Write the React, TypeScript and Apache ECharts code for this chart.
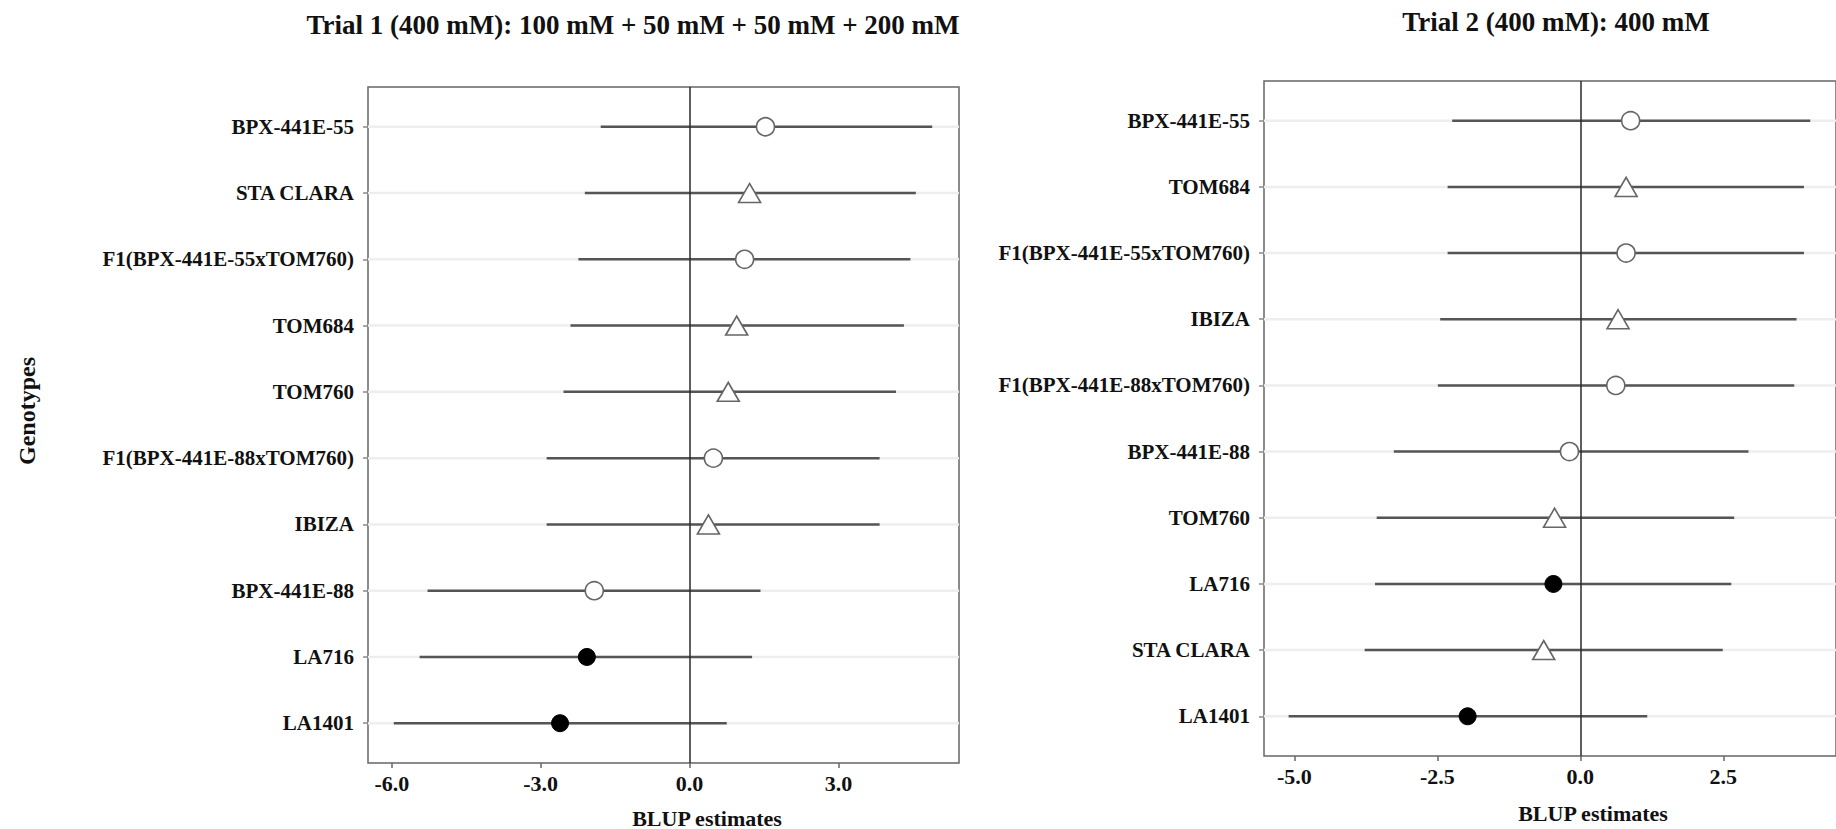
import React, { useEffect, useRef } from "react";
import * as echarts from "echarts";

// Trial 1 (top to bottom)
const genotypes1 = [
  "BPX-441E-55",
  "STA CLARA",
  "F1(BPX-441E-55xTOM760)",
  "TOM684",
  "TOM760",
  "F1(BPX-441E-88xTOM760)",
  "IBIZA",
  "BPX-441E-88",
  "LA716",
  "LA1401",
];
const blup1 = [1.53, 1.21, 1.11, 0.95, 0.78, 0.48, 0.38, -1.92, -2.07, -2.61];
const lower1 = [-1.79, -2.11, -2.24, -2.4, -2.54, -2.88, -2.88, -5.28, -5.44, -5.96];
const upper1 = [4.89, 4.56, 4.45, 4.32, 4.16, 3.83, 3.83, 1.43, 1.26, 0.75];

// Trial 2 (top to bottom)
const genotypes2 = [
  "BPX-441E-55",
  "TOM684",
  "F1(BPX-441E-55xTOM760)",
  "IBIZA",
  "F1(BPX-441E-88xTOM760)",
  "BPX-441E-88",
  "TOM760",
  "LA716",
  "STA CLARA",
  "LA1401",
];
const blup2 = [0.88, 0.8, 0.8, 0.66, 0.62, -0.19, -0.45, -0.47, -0.64, -1.97];
const lower2 = [-2.24, -2.32, -2.32, -2.45, -2.49, -3.26, -3.56, -3.59, -3.77, -5.1];
const upper2 = [4.02, 3.91, 3.91, 3.78, 3.74, 2.94, 2.69, 2.64, 2.49, 1.17];

const xTicks1 = [-6, -3, 0, 3];
const xTicks2 = [-5, -2.5, 0, 2.5];

const titles = [
  "Trial 1 (400 mM): 100 mM + 50 mM + 50 mM + 200 mM",
  "Trial 2 (400 mM): 400 mM",
];
const xName = "BLUP estimates";
const yName = "Genotypes";

// marker group of each genotype
const markerGroup: Record<string, string> = {
  "BPX-441E-55": "circle",
  "BPX-441E-88": "circle",
  "F1(BPX-441E-55xTOM760)": "circle",
  "F1(BPX-441E-88xTOM760)": "circle",
  "STA CLARA": "triangle",
  "TOM684": "triangle",
  "TOM760": "triangle",
  "IBIZA": "triangle",
  "LA716": "filled",
  "LA1401": "filled",
};
const groups = ["circle", "triangle", "filled"];

const FONT = "'Liberation Serif', 'Times New Roman', serif";

function panelSeries(
  pi: number,
  cats: string[],
  est: number[],
  lo: number[],
  hi: number[]
) {
  const idx = cats.map((_, i) => i);
  const out: any[] = [];
  out.push({
    type: "custom",
    name: "grid" + pi,
    xAxisIndex: pi,
    yAxisIndex: pi,
    silent: true,
    z: 1,
    data: idx.map((i) => [0, i]),
    renderItem: (params: any, api: any) => {
      const cs = params.coordSys;
      const y = api.coord([0, api.value(1)])[1];
      return {
        type: "line",
        shape: { x1: cs.x, y1: y, x2: cs.x + cs.width, y2: y },
        style: { stroke: "#eeeeee", lineWidth: 2.5 },
      };
    },
    markLine: {
      silent: true,
      symbol: "none",
      label: { show: false },
      lineStyle: { color: "#2a2a2a", width: 1.5, type: "solid" },
      data: [{ xAxis: 0 }],
    },
  });
  out.push({
    type: "custom",
    name: "ci" + pi,
    xAxisIndex: pi,
    yAxisIndex: pi,
    silent: true,
    z: 3,
    data: idx.map((i) => [lo[i], hi[i], i]),
    encode: { x: [0, 1], y: 2 },
    renderItem: (params: any, api: any) => {
      const a = api.coord([api.value(0), api.value(2)]);
      const b = api.coord([api.value(1), api.value(2)]);
      return {
        type: "line",
        shape: { x1: a[0], y1: a[1], x2: b[0], y2: b[1] },
        style: { stroke: "#555555", lineWidth: 2.5 },
      };
    },
  });
  groups.forEach((g) => {
    const data = idx
      .filter((i) => markerGroup[cats[i]] === g)
      .map((i) => [est[i], i]);
    out.push({
      type: "scatter",
      name: g + pi,
      xAxisIndex: pi,
      yAxisIndex: pi,
      z: 5,
      silent: true,
      data,
      symbol: g === "triangle" ? "triangle" : "circle",
      symbolSize: g === "triangle" ? [22, 19] : g === "filled" ? 17 : 18,
      itemStyle:
        g === "filled"
          ? { color: "#000", borderColor: "#000", borderWidth: 1, opacity: 1 }
          : { color: "#fff", borderColor: "#666", borderWidth: 1.6, opacity: 1 },
    });
  });
  return out;
}

function xAxisFor(pi: number, min: number, max: number, ticks: number[]) {
  return {
    type: "value",
    gridIndex: pi,
    position: "bottom",
    min,
    max,
    axisLine: { show: false, onZero: false },
    splitLine: { show: false },
    axisTick: {
      show: true,
      customValues: ticks,
      length: 5,
      lineStyle: { color: "#666", width: 1.5 },
    },
    axisLabel: {
      customValues: ticks,
      formatter: (v: number) => v.toFixed(1),
      fontSize: 22,
      fontWeight: "bold",
      fontFamily: FONT,
      color: "#111",
      margin: 9,
    },
  };
}

function yAxisFor(pi: number, cats: string[]) {
  const idx = cats.map((_, i) => i);
  return {
    type: "value",
    gridIndex: pi,
    position: "left",
    min: -0.6,
    max: 9.6,
    inverse: true,
    axisLine: { show: false, onZero: false },
    splitLine: { show: false },
    axisTick: {
      show: true,
      customValues: idx,
      length: 5,
      lineStyle: { color: "#888", width: 1.5 },
    },
    axisLabel: {
      customValues: idx,
      formatter: (v: number) => cats[Math.round(v)] ?? "",
      fontSize: 21,
      fontWeight: "bold",
      fontFamily: FONT,
      color: "#111",
      margin: 14,
    },
  };
}

export default function App() {
  const ref = useRef<HTMLDivElement>(null);
  useEffect(() => {
    if (!ref.current) return;
    const chart = echarts.init(ref.current, undefined, { renderer: "svg" });
    const textStyle = (s: string, size: number) => ({
      text: s,
      fontSize: size,
      fontWeight: "bold",
      fontFamily: FONT,
      fill: "#111",
      textAlign: "center",
      textVerticalAlign: "middle",
    });
    chart.setOption({
      animation: false,
      backgroundColor: "#ffffff",
      grid: [
        {
          left: 368,
          top: 87,
          width: 591,
          height: 676,
          show: true,
          borderColor: "#666",
          borderWidth: 1.5,
          backgroundColor: "#fff",
        },
        {
          left: 1264,
          top: 81,
          width: 591,
          height: 675,
          show: true,
          borderColor: "#666",
          borderWidth: 1.5,
          backgroundColor: "#fff",
        },
      ],
      xAxis: [
        xAxisFor(0, -6.48, 5.43, xTicks1),
        xAxisFor(1, -5.53, 4.47, xTicks2),
      ],
      yAxis: [yAxisFor(0, genotypes1), yAxisFor(1, genotypes2)],
      series: [
        ...panelSeries(0, genotypes1, blup1, lower1, upper1),
        ...panelSeries(1, genotypes2, blup2, lower2, upper2),
      ],
      graphic: [
        { type: "text", x: 633, y: 25, style: textStyle(titles[0], 27) },
        { type: "text", x: 1556, y: 22, style: textStyle(titles[1], 27) },
        { type: "text", x: 707, y: 818, style: textStyle(xName, 22) },
        { type: "text", x: 1593, y: 813, style: textStyle(xName, 22) },
        {
          type: "text",
          x: 27,
          y: 411,
          rotation: Math.PI / 2,
          style: textStyle(yName, 24),
        },
      ],
    });
    return () => chart.dispose();
  }, []);
  return (
    <div
      ref={ref}
      style={{ position: "absolute", left: 0, top: 0, width: 1836, height: 829 }}
    />
  );
}
